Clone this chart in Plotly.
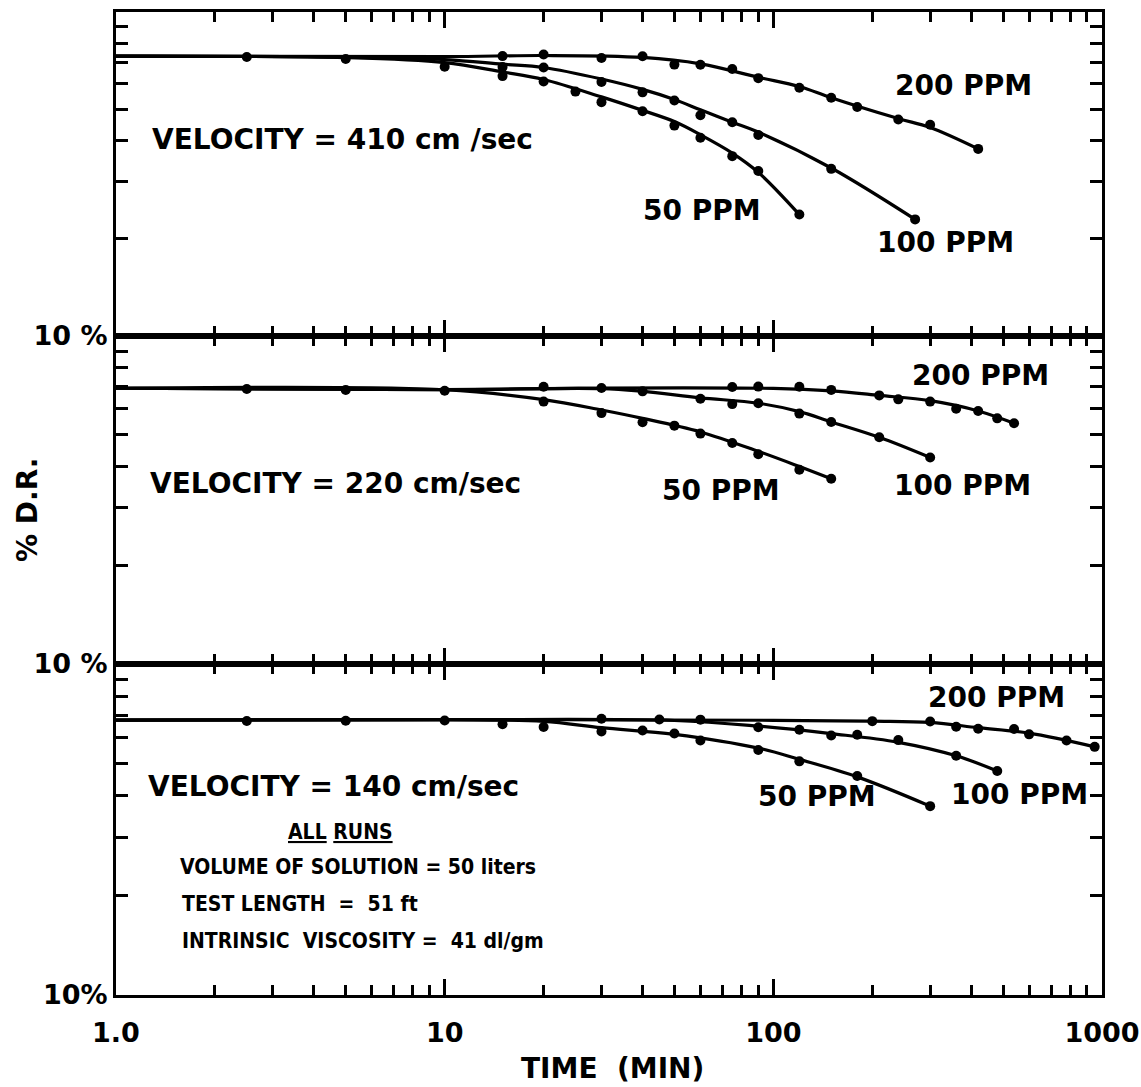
import plotly.graph_objects as go

# ---------------- DATA ----------------
# time in minutes, value in % drag reduction
# *_t / *_v : measured points (markers);  *_ct / *_cv : hand-drawn curve through them

# Panel 1: VELOCITY = 410 cm/sec
top_common_t = [2.5, 5]
top_common_v = [72.6, 71.6]
top_200_t = [15, 20, 30, 40, 50, 60, 75, 90, 120, 150, 180, 240, 300, 420]
top_200_v = [73.1, 73.9, 72.1, 73.0, 68.8, 68.7, 66.7, 62.5, 58.4, 54.4, 50.9, 46.6, 44.9, 37.8]
top_100_t = [15, 20, 30, 40, 50, 60, 75, 90, 150, 270]
top_100_v = [67.6, 67.4, 60.8, 56.5, 53.3, 48.0, 45.7, 41.7, 32.8, 22.9]
top_50_t = [10, 15, 20, 25, 30, 40, 50, 60, 75, 90, 120]
top_50_v = [67.8, 63.4, 61.0, 56.8, 52.7, 49.4, 44.6, 40.9, 35.9, 32.3, 23.7]
top_200_ct = [1, 10, 20, 40, 60, 90, 120, 150, 240, 300, 420]
top_200_cv = [73.1, 72.8, 73.4, 72.4, 69.2, 62.9, 58.9, 54.4, 46.9, 44.0, 37.8]
top_100_ct = [1, 5, 10, 15, 20, 30, 40, 50, 60, 75, 90, 150, 270]
top_100_cv = [73.1, 72.5, 71.3, 69.0, 67.4, 62.1, 57.7, 53.7, 49.9, 45.7, 42.6, 33.0, 22.9]
top_50_ct = [1, 5, 10, 15, 20, 30, 40, 50, 60, 75, 90, 120]
top_50_cv = [73.1, 72.3, 69.8, 65.3, 61.9, 54.7, 49.7, 45.9, 41.8, 36.7, 32.0, 23.7]

# Panel 2: VELOCITY = 220 cm/sec
mid_common_t = [2.5, 5, 10]
mid_common_v = [68.9, 68.5, 68.1]
mid_200_t = [20, 30, 75, 90, 120, 150, 210, 240, 300, 360, 420, 480, 540]
mid_200_v = [70.0, 69.4, 69.9, 70.1, 70.0, 68.5, 65.9, 64.1, 63.1, 60.0, 59.1, 56.1, 54.2]
mid_100_t = [40, 60, 75, 90, 120, 150, 210, 300]
mid_100_v = [67.8, 64.4, 62.0, 62.4, 58.0, 54.7, 49.1, 42.6]
mid_50_t = [20, 30, 40, 50, 60, 75, 90, 120, 150]
mid_50_v = [63.1, 58.2, 54.6, 53.3, 50.4, 47.2, 43.6, 39.1, 36.7]
mid_200_ct = [1, 10, 30, 100, 150, 210, 300, 420, 540]
mid_200_cv = [69.3, 68.6, 69.4, 69.2, 68.0, 65.9, 63.5, 59.1, 54.2]
mid_100_ct = [1, 10, 30, 40, 60, 90, 120, 150, 210, 300]
mid_100_cv = [69.3, 68.6, 69.1, 67.8, 64.8, 62.4, 58.8, 54.7, 49.1, 42.6]
mid_50_ct = [1, 10, 20, 30, 40, 60, 90, 120, 150]
mid_50_cv = [69.3, 68.6, 64.0, 59.5, 56.1, 51.0, 44.5, 40.0, 36.7]

# Panel 3: VELOCITY = 140 cm/sec
bot_common_t = [2.5, 5, 10, 15, 20]
bot_common_v = [67.3, 67.4, 67.5, 65.8, 64.5]
bot_200_t = [30, 45, 60, 200, 300, 360, 420, 540, 600, 780, 950]
bot_200_v = [68.3, 68.0, 67.9, 67.2, 67.0, 64.6, 63.7, 63.6, 61.3, 58.7, 56.2]
bot_100_t = [90, 120, 150, 180, 240, 360, 480]
bot_100_v = [64.4, 63.3, 60.8, 61.1, 58.9, 52.8, 47.5]
bot_50_t = [30, 40, 50, 60, 90, 120, 180, 300]
bot_50_v = [62.5, 63.0, 61.7, 58.7, 55.0, 50.8, 45.9, 37.2]
bot_200_ct = [1, 10, 100, 200, 300, 420, 600, 950]
bot_200_cv = [67.7, 67.9, 67.6, 67.2, 66.6, 64.2, 61.8, 56.2]
bot_100_ct = [1, 10, 50, 90, 150, 240, 360, 480]
bot_100_cv = [67.7, 67.9, 67.5, 64.9, 61.6, 58.0, 52.8, 47.5]
bot_50_ct = [1, 10, 20, 30, 50, 90, 120, 180, 300]
bot_50_cv = [67.7, 67.9, 67.1, 64.2, 61.3, 55.7, 51.5, 45.6, 37.2]

x_tick_vals = [1, 10, 100, 1000]
x_tick_text = ["1.0", "10", "100", "1000"]
x_minor_vals = [2, 3, 4, 5, 6, 7, 8, 9, 20, 30, 40, 50, 60, 70, 80, 90,
                200, 300, 400, 500, 600, 700, 800, 900]
y_tick_vals = [10, 20, 30, 40, 50, 60, 70, 80, 90]

# ---------------- LAYOUT GEOMETRY ----------------
W, H = 1141, 1087
L, R, T, B = 116, 1102, 12, 995
b_low, b_high = 664, 336


def px(x):
    return (x - L) / (R - L)


def py(y):
    return (B - y) / (B - T)


FONT = "DejaVu Sans"
INK = "black"

fig = go.Figure()

panels = [
    ("", bot_common_t, bot_common_v,
     [(bot_200_t, bot_200_v, bot_200_ct, bot_200_cv),
      (bot_100_t, bot_100_v, bot_100_ct, bot_100_cv),
      (bot_50_t, bot_50_v, bot_50_ct, bot_50_cv)]),
    ("2", mid_common_t, mid_common_v,
     [(mid_200_t, mid_200_v, mid_200_ct, mid_200_cv),
      (mid_100_t, mid_100_v, mid_100_ct, mid_100_cv),
      (mid_50_t, mid_50_v, mid_50_ct, mid_50_cv)]),
    ("3", top_common_t, top_common_v,
     [(top_200_t, top_200_v, top_200_ct, top_200_cv),
      (top_100_t, top_100_v, top_100_ct, top_100_cv),
      (top_50_t, top_50_v, top_50_ct, top_50_cv)]),
]

for suf, ct0, cv0, series in panels:
    xa, ya = "x" + suf, "y" + suf
    for t, v, ct, cv in series:
        fig.add_trace(go.Scatter(
            x=ct, y=cv, xaxis=xa, yaxis=ya,
            mode="lines", line=dict(color=INK, width=3.2, shape="spline", smoothing=1.0),
            showlegend=False, hoverinfo="skip"))
        fig.add_trace(go.Scatter(
            x=t, y=v, xaxis=xa, yaxis=ya, mode="markers",
            marker=dict(color=INK, size=10), showlegend=False))
    fig.add_trace(go.Scatter(
        x=ct0, y=cv0, xaxis=xa, yaxis=ya, mode="markers",
        marker=dict(color=INK, size=10), showlegend=False))

tickfont = dict(family=FONT, size=27, color=INK, weight="bold")

xcommon = dict(type="log", range=[0, 3], showline=True, linewidth=3, linecolor=INK,
               mirror="ticks", ticks="inside", ticklen=16, tickwidth=3, tickcolor=INK,
               tickmode="array", tickvals=x_tick_vals, ticktext=x_tick_text,
               minor=dict(tickmode="array", tickvals=x_minor_vals, ticks="inside",
                          ticklen=10, tickwidth=2.5, tickcolor=INK, showgrid=False),
               showgrid=False, zeroline=False, tickfont=tickfont, automargin=False)
ycommon = dict(type="log", range=[1, 2], showline=True, linewidth=3, linecolor=INK,
               mirror="ticks", ticks="inside", ticklen=12, tickwidth=2.5, tickcolor=INK,
               tickmode="array", tickvals=y_tick_vals, showgrid=False, zeroline=False,
               tickfont=tickfont, automargin=False)

ylab_pan = ["10 %"] + [""] * 8
ylab_bot = ["10%"] + [""] * 8

fig.update_layout(
    width=W, height=H,
    margin=dict(l=L, r=W - R, t=T, b=H - B),
    paper_bgcolor="white", plot_bgcolor="white",
    xaxis=dict(xcommon, anchor="y", domain=[0, 1], showticklabels=True, ticklabelstandoff=12),
    xaxis2=dict(xcommon, anchor="y2", domain=[0, 1], matches="x", showticklabels=False),
    xaxis3=dict(xcommon, anchor="y3", domain=[0, 1], matches="x", showticklabels=False),
    yaxis=dict(ycommon, anchor="x", domain=[0, py(b_low)], ticktext=ylab_bot),
    yaxis2=dict(ycommon, anchor="x2", domain=[py(b_low), py(b_high)], ticktext=ylab_pan),
    yaxis3=dict(ycommon, anchor="x3", domain=[py(b_high), 1], ticktext=ylab_pan),
    showlegend=False,
)

big = dict(family=FONT, size=28, color=INK, weight="bold")
small = dict(family="DejaVu Sans Condensed, DejaVu Sans", size=21, color=INK, weight="bold")

labels = [
    ("200 PPM", 963, 85, "center", big),
    ("100 PPM", 945, 242, "center", big),
    ("50 PPM", 702, 210, "center", big),
    ("VELOCITY = 410 cm /sec", 150, 139, "left", big),
    ("200 PPM", 980, 375, "center", big),
    ("100 PPM", 962, 485, "center", big),
    ("50 PPM", 721, 490, "center", big),
    ("VELOCITY = 220 cm/sec", 148, 484, "left", big),
    ("200 PPM", 996, 697, "center", big),
    ("100 PPM", 1019, 794, "center", big),
    ("50 PPM", 817, 796, "center", big),
    ("VELOCITY = 140 cm/sec", 146, 786, "left", big),
    ("<u>ALL</u> <u>RUNS</u>", 340, 832, "center", small),
    ("VOLUME OF SOLUTION = 50 liters", 358, 867, "center", small),
    ("TEST LENGTH  =  51 ft", 300, 904, "center", small),
    ("INTRINSIC  VISCOSITY =  41 dl/gm", 363, 941, "center", small),
    ("TIME  (MIN)", 612, 1068, "center", big),
]
for text, x, y, anchor, f in labels:
    fig.add_annotation(text=text, x=px(x), y=py(y), xref="paper", yref="paper",
                       xanchor=anchor, yanchor="middle", showarrow=False, font=f)

fig.add_annotation(text="% D.R.", x=px(28), y=py(510), xref="paper", yref="paper",
                   xanchor="center", yanchor="middle", textangle=-90, showarrow=False, font=big)

fig.write_html("out.html")
